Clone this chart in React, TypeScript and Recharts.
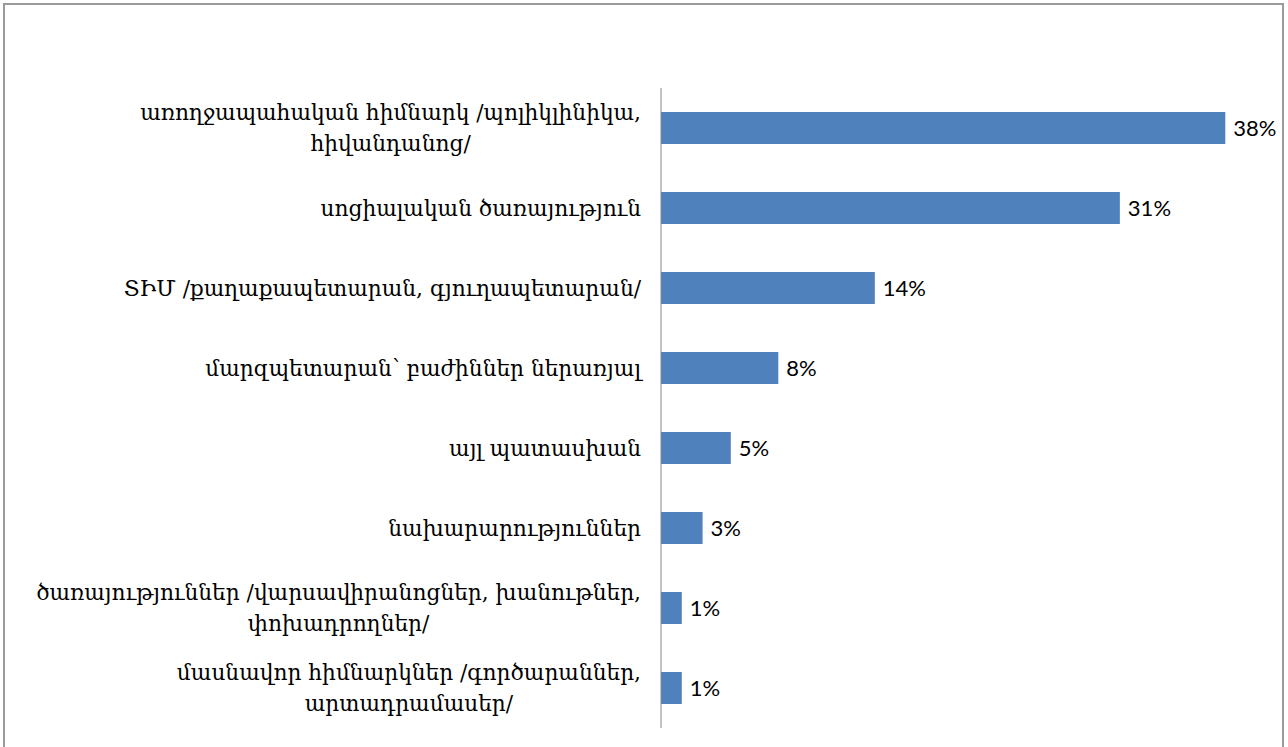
import React from "react";
import { BarChart, Bar, XAxis, YAxis, LabelList } from "recharts";

const categories: string[] = [
  "առողջապահական հիմնարկ /պոլիկլինիկա,\nհիվանդանոց/",
  "սոցիալական ծառայություն",
  "ՏԻՄ /քաղաքապետարան, գյուղապետարան/",
  "մարզպետարան՝ բաժիններ ներառյալ",
  "այլ պատասխան",
  "նախարարություններ",
  "ծառայություններ /վարսավիրանոցներ, խանութներ,\nփոխադրողներ/",
  "մասնավոր հիմնարկներ /գործարաններ,\nարտադրամասեր/",
];

const values: number[] = [38.0, 30.9, 14.4, 7.9, 4.7, 2.8, 1.4, 1.4];

const data = categories.map((c, i) => ({ name: c, value: values[i] }));

const CAT_FONT = "DejaVu Serif";
const CAT_SIZE = 21.7;
const LINE_H = 31;

let canvasCtx: CanvasRenderingContext2D | null = null;
function measure(text: string): number {
  if (!canvasCtx) {
    const c = document.createElement("canvas");
    canvasCtx = c.getContext("2d");
  }
  if (!canvasCtx) return text.length * CAT_SIZE * 0.55;
  canvasCtx.font = `${CAT_SIZE}px "${CAT_FONT}"`;
  return canvasCtx.measureText(text).width;
}

const CategoryTick = (props: any) => {
  const { x, y, payload } = props;
  const lines: string[] = String(payload.value).split("\n");
  const maxW = Math.max(...lines.map(measure));
  const cx = x - maxW / 2;
  const startY = y - ((lines.length - 1) * LINE_H) / 2;
  return (
    <g>
      {lines.map((ln, i) => (
        <text
          key={i}
          x={lines.length > 1 ? cx : x}
          y={startY + i * LINE_H}
          textAnchor={lines.length > 1 ? "middle" : "end"}
          dominantBaseline="central"
          fontFamily={CAT_FONT}
          fontSize={CAT_SIZE}
          fill="#000"
        >
          {ln}
        </text>
      ))}
    </g>
  );
};

export default function App() {
  return (
    <div
      style={{
        position: "absolute",
        left: 0,
        top: 0,
        width: 1288,
        height: 747,
        overflow: "hidden",
        background: "#fff",
      }}
    >
      <div
        style={{
          position: "absolute",
          left: 3,
          top: 3,
          width: 1281,
          height: 760,
          border: "2px solid #9a9a9a",
          boxSizing: "border-box",
        }}
      />
      <div style={{ position: "absolute", left: 0, top: 0 }}>
        <BarChart
          width={1288}
          height={747}
          data={data}
          layout="vertical"
          margin={{ top: 88, right: 33, bottom: 19, left: 0 }}
        >
          <XAxis type="number" domain={[0, 40]} hide />
          <YAxis
            type="category"
            dataKey="name"
            width={661}
            tickSize={0}
            tickMargin={20}
            tickLine={false}
            axisLine={{ stroke: "#868686", strokeWidth: 1 }}
            tick={<CategoryTick />}
            interval={0}
          />
          <Bar dataKey="value" fill="#4F81BD" barSize={32} isAnimationActive={false}>
            <LabelList
              dataKey="value"
              position="right"
              offset={8}
              formatter={(v: any) => `${Math.round(Number(v))}%`}
              fill="#000"
              fontFamily="Lato"
              fontSize={22}
            />
          </Bar>
        </BarChart>
      </div>
    </div>
  );
}
